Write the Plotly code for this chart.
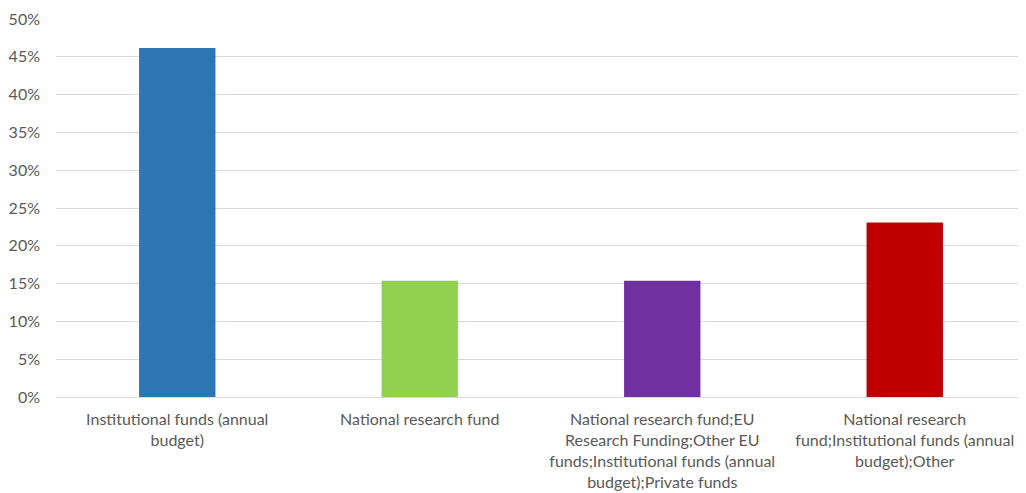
import plotly.graph_objects as go

categories = [
    "Institutional funds (annual<br>budget)",
    "National research fund",
    "National research fund;EU<br>Research Funding;Other EU<br>funds;Institutional funds (annual<br>budget);Private funds",
    "National research<br>fund;Institutional funds (annual<br>budget);Other",
]
values = [0.4615, 0.1538, 0.1538, 0.2308]
colors = ["#2E75B6", "#92D050", "#7030A0", "#C00000"]
y_ticks = [0, 0.05, 0.10, 0.15, 0.20, 0.25, 0.30, 0.35, 0.40, 0.45, 0.50]

fig = go.Figure(go.Bar(x=categories, y=values, marker=dict(color=colors, line=dict(width=0)), width=0.315))

fig.update_layout(
    width=1018, height=485,
    margin=dict(l=48, r=0, t=11, b=96),
    plot_bgcolor="white", paper_bgcolor="white",
    font=dict(family="Lato, Liberation Sans, sans-serif", size=16, color="#595959"),
    showlegend=False,
)
fig.update_yaxes(range=[0, 0.5], tickvals=y_ticks, tickformat=".0%", showgrid=True,
                 gridcolor="#D9D9D9", gridwidth=1, zeroline=False, showline=False,
                 ticks="", ticklabelstandoff=15, automargin=False)
fig.update_xaxes(showline=True, linecolor="#D9D9D9", linewidth=1, ticks="", tickangle=0,
                 ticklabelstandoff=8, automargin=False)

fig.write_html("out.html")
